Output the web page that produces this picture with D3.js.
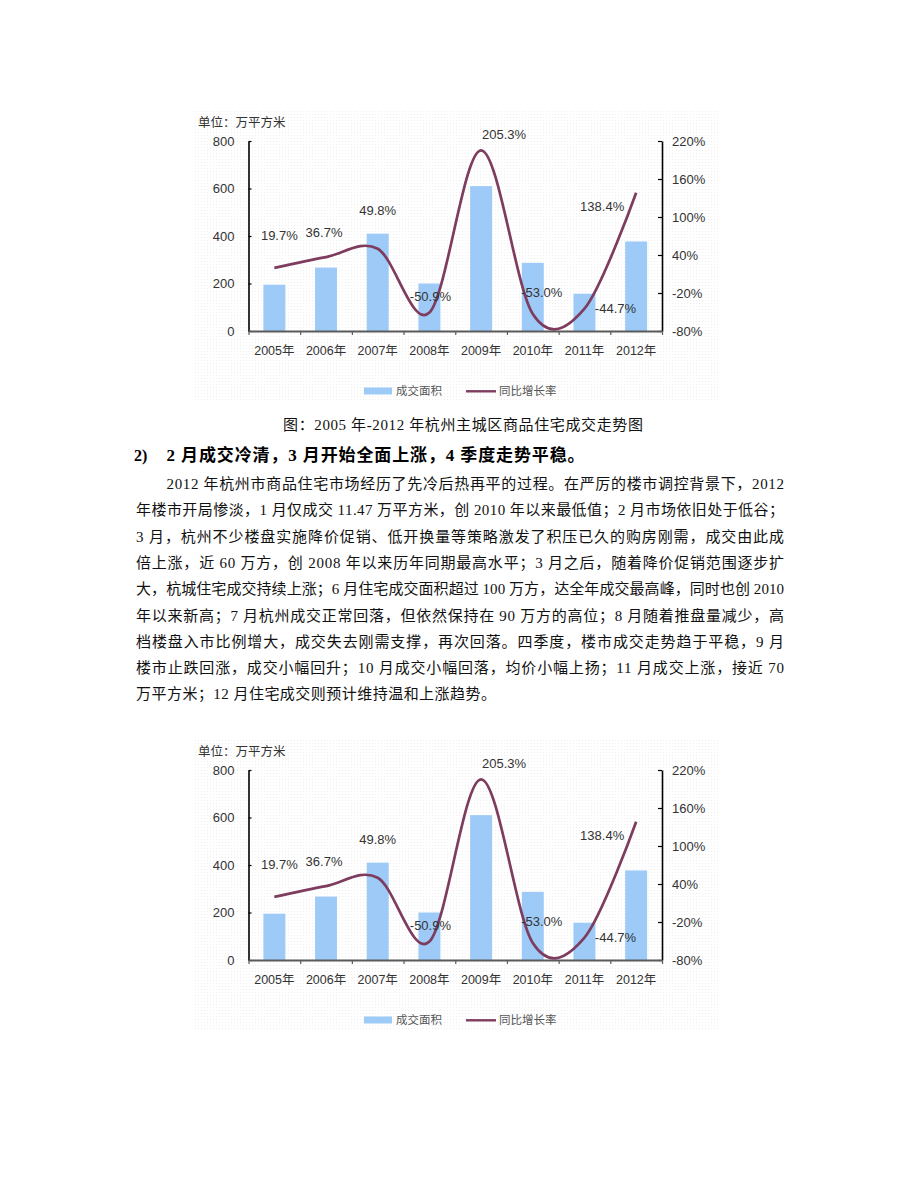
<!DOCTYPE html>
<html>
<head>
<meta charset="utf-8">
<script src="https://cdn.jsdelivr.net/npm/d3@7"></script>
<style>
  html, body { margin: 0; padding: 0; background: #fff; }
  svg { display: block; }
</style>
</head>
<body>
<svg id="page" width="920" height="1191"></svg>
<script>
// ---------- data ----------
const years = ["2005年", "2006年", "2007年", "2008年", "2009年", "2010年", "2011年", "2012年"];
const area = [195, 267, 410, 200, 610, 287, 157, 377];          // 成交面积 (万平方米)
const growth = [19.7, 36.7, 49.8, -50.9, 205.3, -53.0, -44.7, 138.4]; // 同比增长率 (%)
const leftTicks = [0, 200, 400, 600, 800];
const rightTicks = [-80, -20, 40, 100, 160, 220];
const seriesNames = ["成交面积", "同比增长率"];
const unitLabel = "单位：万平方米";

// manual placement of data labels relative to their points (px)
const labelShift = [[5, -32], [-2, -25], [0, -38], [1, -16], [23, -16], [9, -21], [31, 0], [-34, 14]];

const captionText = "图：2005 年-2012 年杭州主城区商品住宅成交走势图";
const headingNo = "2)";
const headingText = "2 月成交冷清，3 月开始全面上涨，4 季度走势平稳。";
const bodyLines = [
  "2012 年杭州市商品住宅市场经历了先冷后热再平的过程。在严厉的楼市调控背景下，2012",
  "年楼市开局惨淡，1 月仅成交 11.47 万平方米，创 2010 年以来最低值；2 月市场依旧处于低谷；",
  "3 月，杭州不少楼盘实施降价促销、低开换量等策略激发了积压已久的购房刚需，成交由此成",
  "倍上涨，近 60 万方，创 2008 年以来历年同期最高水平；3 月之后，随着降价促销范围逐步扩",
  "大，杭城住宅成交持续上涨；6 月住宅成交面积超过 100 万方，达全年成交最高峰，同时也创 2010",
  "年以来新高；7 月杭州成交正常回落，但依然保持在 90 万方的高位；8 月随着推盘量减少，高",
  "档楼盘入市比例增大，成交失去刚需支撑，再次回落。四季度，楼市成交走势趋于平稳，9 月",
  "楼市止跌回涨，成交小幅回升；10 月成交小幅回落，均价小幅上扬；11 月成交上涨，接近 70",
  "万平方米；12 月住宅成交则预计维持温和上涨趋势。"
];

// ---------- drawing ----------
const svg = d3.select("#page");
const sansFont = "'Liberation Sans', Arial, 'Noto Sans CJK SC', sans-serif";
const serifFont = "'Liberation Serif', 'Noto Sans CJK SC', serif";
const textCol = "#333";
const pct = d => (d < 0 ? "-" : "") + Math.abs(d).toFixed(1) + "%";

const defs = svg.append("defs");
const pat = defs.append("pattern").attr("id", "dots")
  .attr("width", 3).attr("height", 3).attr("patternUnits", "userSpaceOnUse");
pat.append("rect").attr("width", 3).attr("height", 3).attr("fill", "#fff");
pat.append("rect").attr("width", 1).attr("height", 1).attr("fill", "#efefef");

function drawChart(oy) {
  const g = svg.append("g").attr("transform", `translate(0,${oy})`);
  const L = 248.5, R = 662, T = 141, B = 331;

  g.append("rect").attr("x", 193).attr("y", 109).attr("width", 527).attr("height", 291)
    .attr("fill", "url(#dots)");

  const x = d3.scaleBand().domain(years).range([L, R]).paddingInner(0.575).paddingOuter(0.2875);
  const cx = d => x(d) + x.bandwidth() / 2;
  const yL = d3.scaleLinear().domain([0, 800]).range([B, T]);
  const yR = d3.scaleLinear().domain([-80, 220]).range([B, T]);

  // bars
  g.append("g").selectAll("rect").data(years).join("rect")
    .attr("x", d => x(d)).attr("width", x.bandwidth())
    .attr("y", (d, i) => yL(area[i])).attr("height", (d, i) => B - yL(area[i]))
    .attr("fill", "#9dcaf7");

  // left axis
  const ax = g.append("g").attr("transform", `translate(${L},0)`)
    .call(d3.axisLeft(yL).tickValues(leftTicks).tickSizeInner(-3).tickSizeOuter(0).tickPadding(14));
  ax.select(".domain").attr("stroke", "#000").attr("stroke-width", 1.6);
  ax.selectAll(".tick line").attr("stroke", "#000").attr("stroke-width", 1.2);
  ax.selectAll("text").attr("font-family", sansFont).attr("font-size", 13).attr("fill", textCol);

  // right axis
  const ar = g.append("g").attr("transform", `translate(${R},0)`)
    .call(d3.axisRight(yR).tickValues(rightTicks).tickSizeInner(-4).tickSizeOuter(0).tickPadding(10)
      .tickFormat(d => d + "%"));
  ar.select(".domain").attr("stroke", "#000").attr("stroke-width", 1.6);
  ar.selectAll(".tick line").attr("stroke", "#000").attr("stroke-width", 1.2);
  ar.selectAll("text").attr("font-family", sansFont).attr("font-size", 13).attr("fill", textCol);

  // bottom axis: boundary ticks
  const xb = d3.scaleLinear().domain([0, years.length]).range([L, R]);
  const ab = g.append("g").attr("transform", `translate(0,${B})`)
    .call(d3.axisBottom(xb).ticks(years.length).tickFormat("").tickSizeInner(4).tickSizeOuter(0));
  ab.select(".domain").attr("stroke", "#5a5a5a").attr("stroke-width", 2.2);
  ab.selectAll(".tick line").attr("stroke", "#5a5a5a").attr("stroke-width", 1.2);
  // category labels
  const ac = g.append("g").attr("transform", `translate(0,${B})`)
    .call(d3.axisBottom(x).tickSize(0).tickPadding(15));
  ac.select(".domain").remove();
  ac.selectAll("text").attr("font-family", sansFont).attr("font-size", 12.5).attr("fill", textCol);

  // smoothed growth line
  const line = d3.line().x((d, i) => cx(years[i])).y(d => yR(d)).curve(d3.curveCardinal.tension(0));
  g.append("path").datum(growth).attr("d", line)
    .attr("fill", "none").attr("stroke", "#7e3c5e").attr("stroke-width", 2.7);

  // data labels
  g.append("g").selectAll("text").data(growth).join("text")
    .attr("x", (d, i) => cx(years[i]) + labelShift[i][0])
    .attr("y", (d, i) => yR(d) + labelShift[i][1])
    .attr("text-anchor", "middle").attr("dominant-baseline", "central")
    .attr("font-family", sansFont).attr("font-size", 13).attr("fill", textCol)
    .text(pct);

  // unit label
  g.append("text").attr("x", 198).attr("y", 123).attr("dominant-baseline", "central")
    .attr("font-family", sansFont).attr("font-size", 12.5).attr("fill", textCol).text(unitLabel);

  // legend
  const lg = g.append("g").attr("font-family", sansFont).attr("font-size", 11.5).attr("fill", "#555");
  lg.append("rect").attr("x", 364).attr("y", 387.5).attr("width", 28).attr("height", 7).attr("fill", "#9dcaf7");
  lg.append("text").attr("x", 396).attr("y", 391).attr("dominant-baseline", "central").text(seriesNames[0]);
  lg.append("line").attr("x1", 466).attr("x2", 496).attr("y1", 391.3).attr("y2", 391.3)
    .attr("stroke", "#7e3c5e").attr("stroke-width", 2.4);
  lg.append("text").attr("x", 499).attr("y", 391).attr("dominant-baseline", "central").text(seriesNames[1]);
}

drawChart(0);
drawChart(629);

// caption
svg.append("text").attr("x", 283).attr("y", 425).attr("dominant-baseline", "central")
  .attr("font-family", serifFont).attr("font-size", 15).attr("fill", "#111")
  .attr("textLength", 360).attr("lengthAdjust", "spacing").text(captionText);

// heading
svg.append("text").attr("x", 134).attr("y", 455).attr("dominant-baseline", "central")
  .attr("font-family", serifFont).attr("font-size", 16).attr("font-weight", "bold").attr("fill", "#000")
  .text(headingNo);
svg.append("text").attr("x", 166.5).attr("y", 455).attr("dominant-baseline", "central")
  .attr("font-family", serifFont).attr("font-size", 17).attr("font-weight", "bold").attr("fill", "#000")
  .attr("textLength", 418).attr("lengthAdjust", "spacing").text(headingText);

// body
svg.append("g").selectAll("text").data(bodyLines).join("text")
  .attr("x", (d, i) => i === 0 ? 166.5 : 136)
  .attr("y", (d, i) => 484 + i * 26.3)
  .attr("dominant-baseline", "central")
  .attr("font-family", serifFont).attr("font-size", 15).attr("fill", "#111")
  .attr("textLength", (d, i) => i === 0 ? 617.5 : (i === bodyLines.length - 1 ? 360 : 648))
  .attr("lengthAdjust", "spacing")
  .text(d => d);
</script>
</body>
</html>
